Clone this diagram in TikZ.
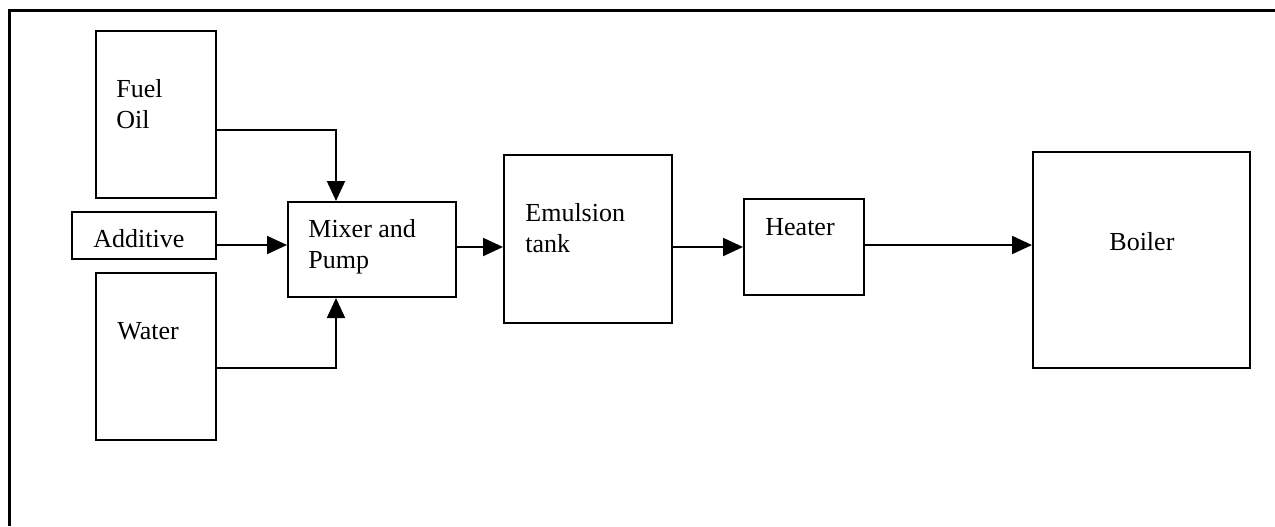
\documentclass[tikz,border=0pt]{standalone}
\usepackage{fontspec}
\setmainfont{Liberation Serif}
\usetikzlibrary{arrows.meta}
\begin{document}
\begin{tikzpicture}[x=0.5pt,y=-0.5pt,
  box/.style={draw,line width=1pt,inner sep=0pt},
  lbl/.style={inner sep=0pt,anchor=base west,align=left,font=\fontsize{13}{15.5}\selectfont},
  arr/.style={line width=1pt,-{Triangle[length=10pt,width=9pt]}}]
\useasboundingbox (0,0) rectangle (1275,526);
\draw[line width=1.5pt] (9,526) -- (9,10) -- (1275,10);
% boxes
\node[box,minimum width=60pt,minimum height=83.5pt] (fuel) at (156,114.5) {};
\node[box,minimum width=72pt,minimum height=23.5pt] (add) at (144,235.5) {};
\node[box,minimum width=60pt,minimum height=83.5pt] (water) at (156,356.5) {};
\node[box,minimum width=84pt,minimum height=47.5pt] (mixer) at (372,249.5) {};
\node[box,minimum width=84pt,minimum height=84pt] (emul) at (588,239) {};
\node[box,minimum width=60pt,minimum height=48pt] (heater) at (804,247) {};
\node[box,minimum width=108.5pt,minimum height=108pt] (boiler) at (1141.5,260) {};
% labels (base anchor of multi-line nodes = last line)
\node[lbl] (tfuel) at (116,128) {Fuel\\Oil};
\node[lbl] (tadd) at (93,247) {Additive};
\node[lbl] (twater) at (117,339) {Water};
\node[lbl] (tmixer) at (308,268) {Mixer and\\Pump};
\node[lbl] (temul) at (525,252) {Emulsion\\tank};
\node[lbl] (theater) at (765,235) {Heater};
\node[lbl] (tboiler) at (1109,250) {Boiler};
% connectors
\draw[arr] ([yshift=-7.75pt]fuel.east) -| ([xshift=-18pt]mixer.north);
\draw[arr] ([yshift=-5.75pt]water.east) -| ([xshift=-18pt]mixer.south);
\draw[arr] ([yshift=-4.75pt]add.east) -- ([yshift=-4.75pt]add.east -| mixer.west);
\draw[arr] ([yshift=1.25pt]mixer.east) -- ([yshift=1.25pt]mixer.east -| emul.west);
\draw[arr] (heater.west -| emul.east) -- (heater.west);
\draw[arr] ([yshift=1pt]heater.east) -- ([yshift=1pt]heater.east -| boiler.west);
\end{tikzpicture}
\end{document}
